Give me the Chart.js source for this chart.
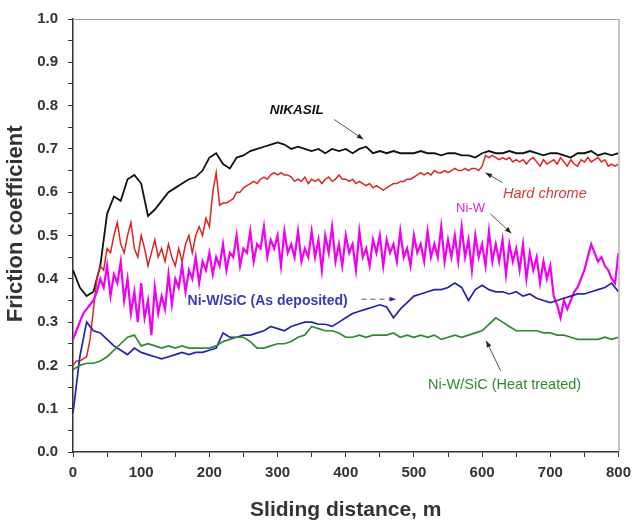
<!DOCTYPE html>
<html><head><meta charset="utf-8">
<script src="https://cdn.jsdelivr.net/npm/chart.js@4.4.0/dist/chart.umd.min.js"></script>
<style>html,body{margin:0;padding:0;background:#fff}#wrap{width:638px;height:531px;position:relative}canvas{display:block}</style>
</head><body><div id="wrap"><canvas id="c" width="638" height="531" style="width:638px;height:531px"></canvas></div>
<script>
// Sliding distance (m)
const distance10 = [0,10,20,30,40,50,60,70,80,90,100,110,120,130,140,150,160,170,180,190,200,210,220,230,240,250,260,270,280,290,300,310,320,330,340,350,360,370,380,390,400,410,420,430,440,450,460,470,480,490,500,510,520,530,540,550,560,570,580,590,600,610,620,630,640,650,660,670,680,690,700,710,720,730,740,750,760,770,780,790,800];
const distance5 = [0,5,10,15,20,25,30,35,40,45,50,55,60,65,70,75,80,85,90,95,100,105,110,115,120,125,130,135,140,145,150,155,160,165,170,175,180,185,190,195,200,205,210,215,220,225,230,235,240,245,250,255,260,265,270,275,280,285,290,295,300,305,310,315,320,325,330,335,340,345,350,355,360,365,370,375,380,385,390,395,400,405,410,415,420,425,430,435,440,445,450,455,460,465,470,475,480,485,490,495,500,505,510,515,520,525,530,535,540,545,550,555,560,565,570,575,580,585,590,595,600,605,610,615,620,625,630,635,640,645,650,655,660,665,670,675,680,685,690,695,700,705,710,715,720,725,730,735,740,745,750,755,760,765,770,775,780,785,790,795,800];

// Friction coefficient series
const nikasil = [0.42,0.38,0.36,0.37,0.43,0.55,0.59,0.58,0.63,0.64,
0.62,0.545,0.56,0.58,0.60,0.61,0.62,0.63,0.635,0.65,
0.68,0.69,0.665,0.655,0.68,0.685,0.695,0.70,0.705,0.71,
0.715,0.71,0.70,0.705,0.70,0.695,0.70,0.69,0.70,0.695,
0.70,0.69,0.70,0.705,0.69,0.695,0.69,0.695,0.69,0.69,
0.69,0.695,0.69,0.69,0.685,0.69,0.69,0.685,0.685,0.68,
0.69,0.695,0.69,0.69,0.695,0.69,0.69,0.695,0.69,0.685,
0.69,0.69,0.685,0.68,0.69,0.69,0.695,0.685,0.69,0.685,0.69];

const hardChrome = [0.20,0.21,0.21,0.215,0.22,0.26,0.33,0.40,0.43,0.42,
0.47,0.46,0.50,0.53,0.48,0.46,0.50,0.53,0.47,0.45,
0.50,0.47,0.43,0.46,0.49,0.45,0.47,0.44,0.48,0.45,
0.43,0.47,0.44,0.48,0.50,0.46,0.50,0.52,0.50,0.54,
0.52,0.60,0.645,0.57,0.575,0.575,0.58,0.585,0.60,0.60,
0.61,0.615,0.62,0.625,0.62,0.63,0.635,0.63,0.64,0.645,
0.64,0.645,0.64,0.64,0.635,0.625,0.63,0.625,0.635,0.62,
0.63,0.625,0.63,0.62,0.63,0.635,0.625,0.63,0.64,0.63,
0.63,0.625,0.63,0.62,0.625,0.62,0.615,0.62,0.61,0.615,
0.61,0.605,0.61,0.615,0.62,0.62,0.625,0.625,0.63,0.63,
0.635,0.64,0.645,0.64,0.645,0.64,0.65,0.645,0.645,0.65,
0.645,0.65,0.655,0.65,0.65,0.655,0.65,0.655,0.655,0.65,
0.66,0.685,0.68,0.685,0.68,0.675,0.68,0.675,0.68,0.67,
0.675,0.67,0.675,0.665,0.675,0.68,0.67,0.66,0.675,0.665,
0.67,0.675,0.665,0.68,0.67,0.66,0.675,0.665,0.66,0.675,
0.67,0.68,0.67,0.675,0.68,0.67,0.675,0.66,0.665,0.66,0.665];

const niW = [0.26,0.28,0.30,0.32,0.33,0.34,0.35,0.37,0.40,0.38,
0.43,0.36,0.41,0.39,0.44,0.35,0.40,0.32,0.37,0.30,
0.39,0.31,0.35,0.27,0.38,0.32,0.36,0.33,0.41,0.34,
0.40,0.38,0.43,0.37,0.42,0.40,0.45,0.39,0.44,0.42,
0.46,0.41,0.45,0.43,0.48,0.42,0.46,0.45,0.50,0.43,
0.47,0.46,0.51,0.44,0.48,0.47,0.52,0.45,0.49,0.47,
0.50,0.43,0.51,0.46,0.48,0.45,0.51,0.44,0.47,0.45,
0.51,0.45,0.49,0.42,0.50,0.46,0.52,0.44,0.48,0.43,
0.50,0.46,0.48,0.42,0.51,0.45,0.47,0.43,0.49,0.46,
0.50,0.43,0.49,0.46,0.48,0.44,0.51,0.45,0.47,0.43,
0.50,0.46,0.48,0.44,0.51,0.45,0.48,0.45,0.52,0.44,
0.49,0.45,0.50,0.44,0.52,0.45,0.49,0.42,0.50,0.45,
0.48,0.43,0.51,0.44,0.48,0.44,0.49,0.41,0.48,0.44,
0.47,0.42,0.48,0.40,0.46,0.42,0.45,0.39,0.44,0.40,
0.43,0.36,0.34,0.31,0.35,0.33,0.35,0.37,0.38,0.40,
0.42,0.45,0.48,0.46,0.44,0.45,0.43,0.42,0.40,0.39,0.46];

const asDeposited = [0.09,0.22,0.30,0.28,0.275,0.26,0.245,0.235,0.225,0.24,
0.23,0.225,0.22,0.215,0.22,0.225,0.23,0.225,0.23,0.23,
0.235,0.24,0.275,0.265,0.265,0.27,0.27,0.275,0.28,0.29,
0.285,0.28,0.29,0.295,0.30,0.30,0.295,0.295,0.29,0.30,
0.31,0.32,0.325,0.33,0.335,0.34,0.335,0.31,0.33,0.345,
0.36,0.365,0.37,0.375,0.375,0.38,0.39,0.38,0.35,0.375,
0.385,0.375,0.37,0.37,0.365,0.37,0.36,0.365,0.355,0.35,
0.345,0.35,0.355,0.36,0.365,0.365,0.37,0.375,0.38,0.39,0.37];

const heatTreated = [0.19,0.20,0.205,0.205,0.21,0.22,0.235,0.25,0.265,0.27,
0.245,0.25,0.245,0.24,0.245,0.24,0.245,0.24,0.24,0.24,
0.24,0.245,0.255,0.26,0.265,0.265,0.255,0.24,0.24,0.245,
0.25,0.25,0.255,0.265,0.27,0.29,0.285,0.28,0.28,0.275,
0.265,0.265,0.27,0.265,0.27,0.27,0.27,0.275,0.265,0.27,
0.265,0.27,0.265,0.27,0.26,0.265,0.27,0.265,0.27,0.275,
0.28,0.295,0.31,0.30,0.29,0.28,0.28,0.28,0.28,0.275,
0.275,0.27,0.27,0.265,0.26,0.26,0.26,0.26,0.265,0.26,0.265];

const seriesNames = ['NIKASIL','Hard chrome','Ni-W','Ni-W/SiC (As deposited)','Ni-W/SiC (Heat treated)'];
const xTitle = 'Sliding distance, m';
const yTitle = 'Friction coefficient';

// Annotation labels (data coordinates: distance, coefficient)
const labelTexts = ['NIKASIL','Hard chrome','Ni-W','Ni-W/SiC (As deposited)','Ni-W/SiC (Heat treated)'];
const labelAnchors = [[328,0.789,'center'],[692,0.596,'center'],[583,0.562,'center'],[168,0.349,'left'],[633,0.154,'center']];
const arrowLines = [[383,0.768,426,0.722],[630,0.622,605,0.645],[612,0.55,643,0.505],[423,0.353,474,0.353],[627,0.188,606,0.257]];

const FONT = "'Liberation Sans', Arial, sans-serif";
const toXY = (xs, ys) => ys.map((v,i)=>({x:xs[i], y:v}));

const frameAndLabels = {
  id:'frameAndLabels',
  afterDraw(chart){
    const {ctx, chartArea:a, scales:{x,y}} = chart;
    ctx.save();
    ctx.strokeStyle='#a0a0a0'; ctx.lineWidth=1.2;
    ctx.beginPath(); ctx.moveTo(a.left, a.top+0.5); ctx.lineTo(a.right+0.5, a.top+0.5); ctx.lineTo(a.right+0.5, a.bottom); ctx.stroke();
    // y-axis title
    ctx.save();
    ctx.translate(16, y.getPixelForValue(0.527));
    ctx.rotate(-Math.PI/2);
    ctx.font = "bold 22px "+FONT; ctx.fillStyle='#333'; ctx.textAlign='center'; ctx.textBaseline='middle';
    ctx.fillText(yTitle, 0, 0);
    ctx.restore();
    const styles = [
      {font:"italic bold 13.5px "+FONT, color:'#111'},
      {font:"italic 14.5px "+FONT, color:'#d83a3a'},
      {font:"13px "+FONT, color:'#e020e0'},
      {font:"bold 14px "+FONT, color:'#3838b8'},
      {font:"14.5px "+FONT, color:'#2f8a2f'}
    ];
    labelTexts.forEach((t,i)=>{
      const [dx,dy,al] = labelAnchors[i];
      ctx.font = styles[i].font; ctx.fillStyle = styles[i].color;
      ctx.textAlign = al; ctx.textBaseline='middle';
      ctx.fillText(t, x.getPixelForValue(dx), y.getPixelForValue(dy));
    });
    arrowLines.forEach((l,i)=>{
      const x1=x.getPixelForValue(l[0]), y1=y.getPixelForValue(l[1]);
      const x2=x.getPixelForValue(l[2]), y2=y.getPixelForValue(l[3]);
      ctx.strokeStyle = i===3 ? '#4a4ac0' : '#555';
      ctx.fillStyle = i===3 ? '#2a2aa0' : '#222';
      ctx.lineWidth = 1;
      ctx.setLineDash(i===3 ? [5,4] : []);
      ctx.beginPath(); ctx.moveTo(x1,y1); ctx.lineTo(x2,y2); ctx.stroke();
      ctx.setLineDash([]);
      const ang = Math.atan2(y2-y1, x2-x1), s=7;
      ctx.beginPath();
      ctx.moveTo(x2,y2);
      ctx.lineTo(x2 - s*Math.cos(ang-0.35), y2 - s*Math.sin(ang-0.35));
      ctx.lineTo(x2 - s*Math.cos(ang+0.35), y2 - s*Math.sin(ang+0.35));
      ctx.closePath(); ctx.fill();
    });
    ctx.restore();
  }
};

const mk = (label, xs, ys, color, w) => ({label, data: toXY(xs, ys), borderColor: color, backgroundColor: color, borderWidth: w, pointRadius: 0, tension: 0, fill:false});

new Chart(document.getElementById('c'), {
  type:'line',
  data:{datasets:[
    mk(seriesNames[4], distance10, heatTreated, '#2f8a2f', 1.7),
    mk(seriesNames[3], distance10, asDeposited, '#2424a8', 1.7),
    mk(seriesNames[2], distance5, niW, '#f000f0', 2.2),
    mk(seriesNames[1], distance5, hardChrome, '#dd2424', 1.5),
    mk(seriesNames[0], distance10, nikasil, '#111111', 1.8)
  ]},
  options:{
    responsive:false, animation:false, devicePixelRatio:1,
    layout:{padding:{top:16,right:16,left:0,bottom:0}},
    plugins:{legend:{display:false}, tooltip:{enabled:false}},
    scales:{
      x:{type:'linear', min:0, max:800,
        afterFit(s){ s.height = 79; },
        border:{color:'#333', width:1.5},
        grid:{drawOnChartArea:false, drawTicks:true, tickLength:5, color:'#333'},
        ticks:{stepSize:50, autoSkip:false, maxRotation:0, padding:7, color:'#333',
          font:{family:FONT, size:15, weight:'bold'},
          callback:(v)=> (v%100===0 ? String(v) : '')},
        title:{display:true, text:xTitle, color:'#333', font:{family:FONT, size:21, weight:'bold'}, padding:{top:0,bottom:8}}
      },
      y:{type:'linear', min:0, max:1,
        afterFit(s){ s.width = 73; },
        border:{color:'#333', width:1.5},
        grid:{drawOnChartArea:false, drawTicks:true, tickLength:5, color:'#333'},
        ticks:{stepSize:0.05, autoSkip:false, padding:10, color:'#333',
          font:{family:FONT, size:15, weight:'bold'},
          callback:(v)=> (Math.round(v*100)%10===0 ? v.toFixed(1) : '')},
        title:{display:false}
      }
    }
  },
  plugins:[frameAndLabels]
});
</script>
</body></html>
